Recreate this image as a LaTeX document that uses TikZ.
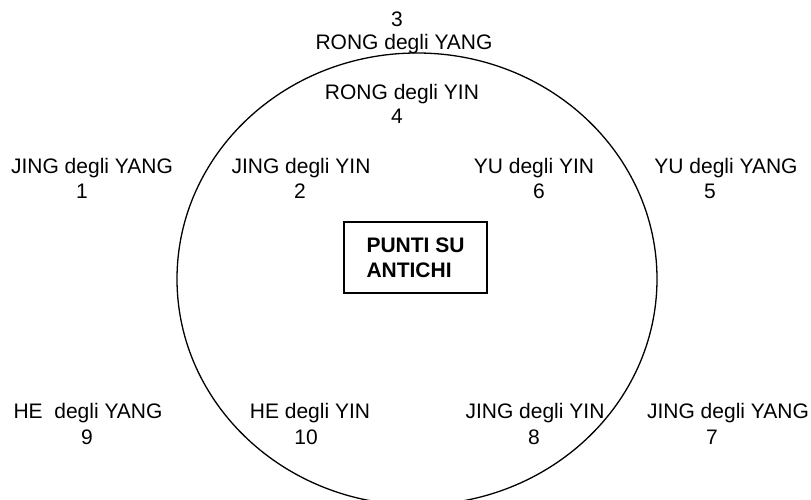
\documentclass[tikz,border=0pt]{standalone}
\usepackage{fontspec}
\setmainfont{Liberation Sans}
\begin{document}
\begin{tikzpicture}[x=1pt,y=-1pt,
  lbl/.style={anchor=base,inner sep=0pt,font=\fontsize{21}{25}\selectfont},
  tag/.style={draw,line width=1.2pt,minimum width=143pt,minimum height=71pt,
    align=left,font=\fontsize{21}{25}\selectfont\bfseries}]
  \useasboundingbox (0,0) rectangle (811,500);
  \clip (0,0) rectangle (811,500);
  \coordinate (O) at (417,279);
  \draw[line width=1.3pt] (O) ellipse [x radius=240pt,y radius=226pt];
  \node[tag] (centro) at (415.5,257.5) {PUNTI SU\\ANTICHI};
  % top
  \node[lbl] (n3) at (397,27) {3};
  \node[lbl] (rongyang) at (404,50) {RONG degli YANG};
  \node[lbl] (rongyin) at (402,100) {RONG degli YIN};
  \node[lbl] (n4) at (397,124) {4};
  % upper row
  \node[lbl] (jingyang) at (92,173) {JING degli YANG};
  \node[lbl] (n1) at (82,198) {1};
  \node[lbl] (jingyin) at (301,173) {JING degli YIN};
  \node[lbl] (n2) at (300,198) {2};
  \node[lbl] (yuyin) at (534,173) {YU degli YIN};
  \node[lbl] (n6) at (539,198) {6};
  \node[lbl] (yuyang) at (726,173) {YU degli YANG};
  \node[lbl] (n5) at (710,198) {5};
  % lower row
  \node[lbl] (heyang) at (88,418) {HE\ \ degli YANG};
  \node[lbl] (n9) at (87,444) {9};
  \node[lbl] (heyin) at (310,418) {HE degli YIN};
  \node[lbl] (n10) at (306,444) {10};
  \node[lbl] (jingyinb) at (535,418) {JING degli YIN};
  \node[lbl] (n8) at (534,444) {8};
  \node[lbl] (jingyangb) at (728,418) {JING degli YANG};
  \node[lbl] (n7) at (712,444) {7};
\end{tikzpicture}
\end{document}
